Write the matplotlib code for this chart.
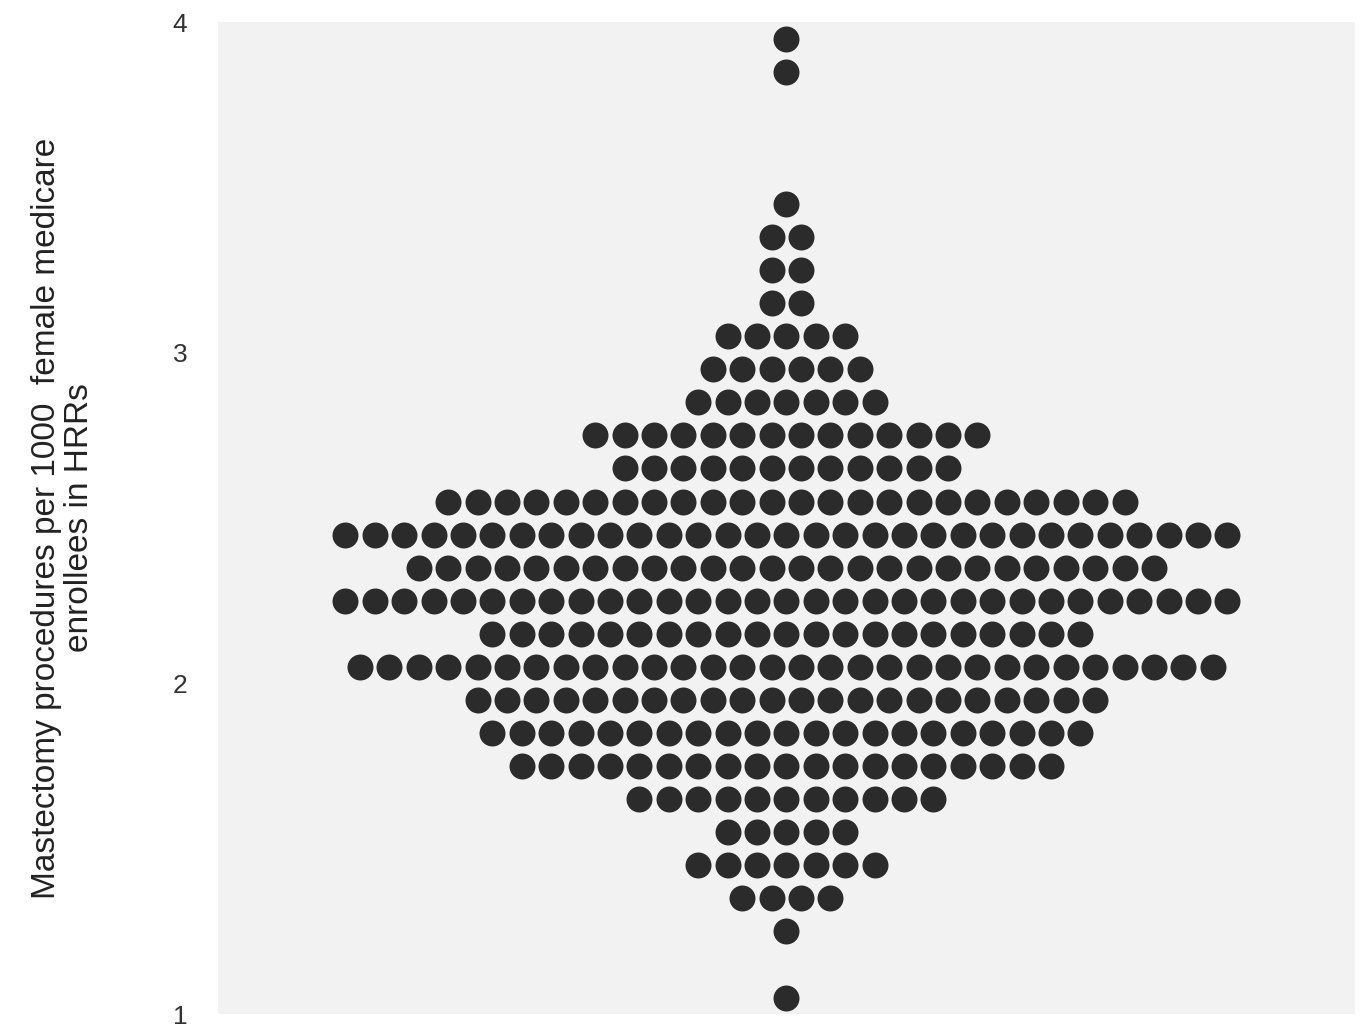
import numpy as np
import matplotlib as mpl
import matplotlib.pyplot as plt

mpl.rcParams['font.family'] = ['Liberation Sans', 'DejaVu Sans']

# binned mastectomy rates (bin centres) and number of HRRs in each bin
rate_bins = [1.05, 1.25, 1.35, 1.45, 1.55, 1.65, 1.75, 1.85, 1.95, 2.05,
             2.15, 2.25, 2.35, 2.45, 2.55, 2.65, 2.75, 2.85, 2.95, 3.05,
             3.15, 3.25, 3.35, 3.45, 3.85, 3.95]
hrr_counts = [1, 1, 4, 7, 5, 11, 19, 21, 22, 30,
              21, 31, 26, 31, 24, 12, 14, 7, 6, 5,
              2, 2, 2, 1, 1, 1]
yticks = [1, 2, 3, 4]

dot_color = '#2b2b2b'
panel_color = '#f2f2f2'

#stack dots side by side for each bin
xs, ys = [], []
for val, n in zip(rate_bins, hrr_counts):
    xs.extend(np.arange(n) - (n - 1) / 2.0)
    ys.extend([val] * n)

fig = plt.figure(figsize=(13.61, 10.30), dpi=100)
ax = fig.add_axes([0.160, 0.0155, 0.8356, 0.9631])
ax.set_facecolor(panel_color)

ax.scatter(xs, ys, s=350, color=dot_color, linewidths=0)

ax.set_xlim(-19.34, 19.34)
ax.set_ylim(1, 4)
ax.set_xticks([])
ax.set_yticks(yticks)
ax.set_yticklabels([str(t) for t in yticks], fontsize=19, color='#333333')
ax.tick_params(axis='y', length=0, pad=22)

for side in ['left', 'right', 'top', 'bottom']:
    ax.spines[side].set_visible(False)

ax.set_ylabel('Mastectomy procedures per 1000  female medicare\nenrollees in HRRs',
              fontsize=24, color='#222222', labelpad=56, linespacing=1.05)

fig.savefig('out.png', dpi=100)
